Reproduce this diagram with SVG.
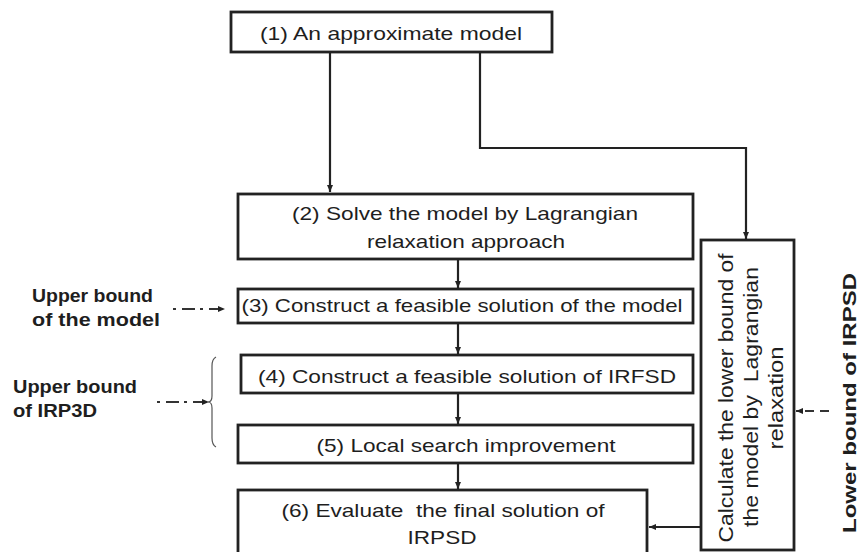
<svg xmlns="http://www.w3.org/2000/svg" width="859" height="552" viewBox="0 0 859 552">
  <style>
    .box { fill: #ffffff; stroke: #222222; stroke-width: 2.8; }
    .txt { font-family: "Liberation Sans", Arial, sans-serif; font-size: 19px; fill: #1e1e1e; text-anchor: middle; }
    .vtxt { font-family: "Liberation Sans", Arial, sans-serif; font-size: 21px; fill: #1e1e1e; text-anchor: middle; }
    .lbl { font-family: "Liberation Sans", Arial, sans-serif; font-size: 19px; font-weight: bold; fill: #1e1e1e; }
    .conn { fill: none; stroke: #222222; stroke-width: 2.2; }
    .dash { fill: none; stroke: #333333; stroke-width: 2; }
    .brace { fill: none; stroke: #555555; stroke-width: 1.2; }
  </style>
  <defs>
    <marker id="head" markerUnits="userSpaceOnUse" markerWidth="8" markerHeight="8" refX="7" refY="4" orient="auto">
      <path d="M0,1 L7,4 L0,7 z" fill="#222222"/>
    </marker>
  </defs>

  <rect width="859" height="552" fill="#ffffff"/>

  <!-- connectors -->
  <g id="connectors">
    <path class="conn" d="M330,53 V192" marker-end="url(#head)"/>
    <path class="conn" d="M480,53 V148 H746 V239" marker-end="url(#head)"/>
    <path class="conn" d="M458,259 V288" marker-end="url(#head)"/>
    <path class="conn" d="M458,323 V354" marker-end="url(#head)"/>
    <path class="conn" d="M458,393 V424" marker-end="url(#head)"/>
    <path class="conn" d="M458,463 V489" marker-end="url(#head)"/>
    <path class="conn" d="M700,527 H649" marker-end="url(#head)"/>
    <!-- bound annotations -->
    <path class="dash" d="M173,309 H225" stroke-dasharray="3 6 13 5" marker-end="url(#head)"/>
    <path class="dash" d="M157,402 H209" stroke-dasharray="3 6 13 5" marker-end="url(#head)"/>
    <path class="dash" d="M829,411 H796" stroke-dasharray="9 6" marker-end="url(#head)"/>
    <path class="brace" d="M216,357 Q212,359 212,366 V396 Q212,402 208,402 Q212,402 212,408 V438 Q212,445 216,447"/>
  </g>

  <g id="n1">
    <rect class="box" x="231" y="12" width="321" height="40"/>
    <text class="txt" x="391" y="40" textLength="262" lengthAdjust="spacingAndGlyphs">(1) An approximate model</text>
  </g>

  <g id="n2">
    <rect class="box" x="238" y="194" width="455" height="65"/>
    <text class="txt" x="465" y="220" textLength="346" lengthAdjust="spacingAndGlyphs">(2) Solve the model by Lagrangian</text>
    <text class="txt" x="466" y="248" textLength="198" lengthAdjust="spacingAndGlyphs">relaxation approach</text>
  </g>

  <g id="n3">
    <rect class="box" x="238" y="289" width="455" height="34"/>
    <text class="txt" x="462" y="312" textLength="441" lengthAdjust="spacingAndGlyphs">(3) Construct a feasible solution of the model</text>
  </g>

  <g id="n4">
    <rect class="box" x="241" y="355" width="452" height="38"/>
    <text class="txt" x="467" y="383" textLength="418" lengthAdjust="spacingAndGlyphs">(4) Construct a feasible solution of IRFSD</text>
  </g>

  <g id="n5">
    <rect class="box" x="238" y="425" width="455" height="38"/>
    <text class="txt" x="466" y="452" textLength="299" lengthAdjust="spacingAndGlyphs">(5) Local search improvement</text>
  </g>

  <g id="n6">
    <rect class="box" x="238" y="490" width="409" height="80"/>
    <text class="txt" x="443" y="517" textLength="323" lengthAdjust="spacingAndGlyphs" xml:space="preserve">(6) Evaluate  the final solution of</text>
    <text class="txt" x="442" y="544" textLength="69" lengthAdjust="spacingAndGlyphs">IRPSD</text>
  </g>

  <g id="n7">
    <rect class="box" x="701" y="240" width="93" height="310"/>
    <text class="vtxt" transform="translate(733,398) rotate(-90)" textLength="289" lengthAdjust="spacingAndGlyphs">Calculate the lower bound of</text>
    <text class="vtxt" transform="translate(758,397) rotate(-90)" textLength="260" lengthAdjust="spacingAndGlyphs" xml:space="preserve">the model by  Lagrangian</text>
    <text class="vtxt" transform="translate(783,398) rotate(-90)" textLength="103" lengthAdjust="spacingAndGlyphs">relaxation</text>
  </g>

  <g id="ub-model">
    <text class="lbl" x="32" y="302" textLength="121" lengthAdjust="spacingAndGlyphs">Upper bound</text>
    <text class="lbl" x="32" y="326" textLength="128" lengthAdjust="spacingAndGlyphs">of the model</text>
  </g>

  <g id="ub-irpsd">
    <text class="lbl" x="13" y="393" textLength="124" lengthAdjust="spacingAndGlyphs">Upper bound</text>
    <text class="lbl" x="13" y="417" textLength="84" lengthAdjust="spacingAndGlyphs">of IRP3D</text>
  </g>

  <g id="lb-irpsd">
    <text class="lbl" style="font-size:18px" transform="translate(856,403) rotate(-90)" text-anchor="middle" textLength="260" lengthAdjust="spacingAndGlyphs">Lower bound of IRPSD</text>
  </g>
</svg>
